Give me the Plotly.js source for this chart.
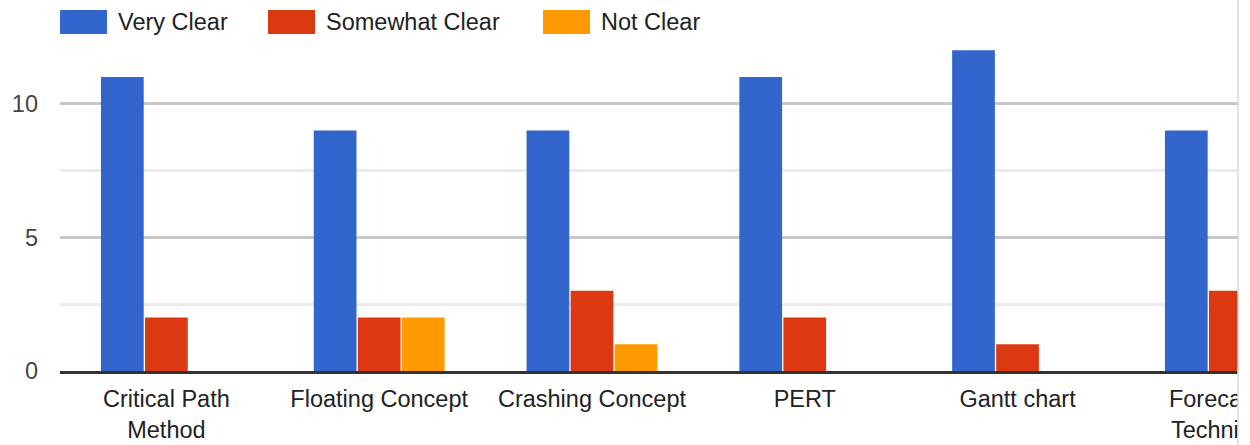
<!DOCTYPE html>
<html>
<head>
<meta charset="utf-8">
<script src="https://cdn.plot.ly/plotly-3.0.1.min.js"></script>
<style>html,body{margin:0;padding:0;background:#fff;overflow:hidden}#chart{width:1250px;height:445px}</style>
</head>
<body>
<div id="chart"></div>
<script>
const categories = ["Critical Path<br>Method", "Floating Concept", "Crashing Concept", "PERT", "Gantt chart", "Forecasting<br>Techniques"];
const seriesNames = ["Very Clear", "Somewhat Clear", "Not Clear"];
const veryClear = [11, 9, 9, 11, 12, 9];
const somewhatClear = [2, 2, 3, 2, 1, 3];
const notClear = [0, 2, 1, 0, 0, 0];
const yTicks = [0, 5, 10];

const colors = ["#3366cc", "#dc3912", "#ff9900"];
const FONT = "Liberation Sans, Arial, sans-serif";
const FS = 23.5;

const W = 1250, H = 445;
const M = {l: 60, r: 12, t: 37, b: 74};
const pw = W - M.l - M.r, ph = H - M.t - M.b;

const values = [veryClear, somewhatClear, notClear];
const traces = seriesNames.map((n, i) => ({
  type: "bar", name: n, x: categories, y: values[i],
  marker: {color: colors[i]}, hoverinfo: "none", showlegend: false
}));

const px = x => (x - M.l) / pw;
const py = y => (M.t + ph - y) / ph;
const legendX = [60, 268, 543];
const shapes = [];
const annotations = [];
seriesNames.forEach((n, i) => {
  shapes.push({type: "rect", xref: "paper", yref: "paper", layer: "above",
    x0: px(legendX[i]), x1: px(legendX[i] + 47), y0: py(34), y1: py(10),
    fillcolor: colors[i], line: {width: 0}});
  annotations.push({xref: "paper", yref: "paper", x: px(legendX[i] + 56), y: py(22),
    xanchor: "left", yanchor: "middle", showarrow: false, text: n,
    font: {family: FONT, size: FS, color: "#222"}});
});
// right-hand cut-off (viewport edge)
shapes.push({type: "rect", xref: "paper", yref: "paper", layer: "above",
  x0: px(1238), x1: px(1260), y0: py(450), y1: py(-5), fillcolor: "#fff", line: {width: 0}});
shapes.push({type: "line", xref: "paper", yref: "paper", layer: "above",
  x0: px(1238), x1: px(1238), y0: py(450), y1: py(-5), line: {color: "#dadada", width: 1.5}});

const layout = {
  width: W, height: H,
  margin: M,
  paper_bgcolor: "#fff", plot_bgcolor: "#fff",
  barmode: "group", bargap: 0.379, bargroupgap: 0.03,
  font: {family: FONT, size: FS, color: "#222"},
  xaxis: {
    type: "category", range: [-0.5, 5.036], showgrid: false, zeroline: false,
    showline: true, linecolor: "#333", linewidth: 3, ticks: "",
    tickfont: {family: FONT, size: FS, color: "#222"}, ticklabelstandoff: 5
  },
  yaxis: {
    range: [0, 12.5], tickvals: yTicks, ticktext: yTicks.map(String),
    showgrid: true, gridcolor: "#c8c8c8", gridwidth: 3, zeroline: false,
    showline: false, ticks: "", ticklabelstandoff: 21,
    tickfont: {family: FONT, size: FS, color: "#444"},
    minor: {tickvals: [2.5, 7.5, 12.5], showgrid: true, gridcolor: "#ebebeb", gridwidth: 3}
  },
  showlegend: false,
  shapes: shapes, annotations: annotations
};

Plotly.newPlot("chart", traces, layout, {staticPlot: true, displayModeBar: false});
</script>
</body>
</html>
